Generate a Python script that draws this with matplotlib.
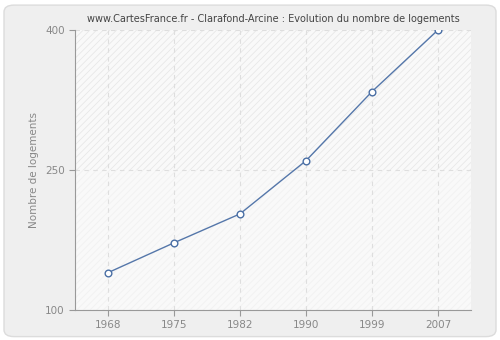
import matplotlib.pyplot as plt
from matplotlib.patches import FancyBboxPatch, Rectangle

years = ['1968', '1975', '1982', '1990', '1999', '2007']
logements = [140, 172, 203, 260, 334, 400]
y_ticks = [100, 250, 400]

fig = plt.figure(figsize=(5, 3.4), dpi=100)
fig.patch.set_facecolor('white')

# cadre arrondi de fond
fig.patches.append(FancyBboxPatch((0.008, 0.01), 0.984, 0.975, boxstyle='round,pad=0,rounding_size=0.02',
                                  transform=fig.transFigure, facecolor='#efefef',
                                  edgecolor='#dcdcdc', linewidth=1, zorder=-10))

ax = fig.add_axes([0.15, 0.0882, 0.792, 0.8236])
ax.set_facecolor('#f9f9f9')
x = list(range(len(years)))
ax.set_xlim(-0.5, len(years) - 0.5)
ax.set_ylim(100, 400)

# fond hachuré
plt.rcParams['hatch.linewidth'] = 0.6
ax.add_patch(Rectangle((-0.5, 250), len(years), 150, facecolor='none', edgecolor='#e8e8e8',
                       hatch='/////', linewidth=0, zorder=0))
ax.add_patch(Rectangle((-0.5, 100), len(years), 150, facecolor='none', edgecolor='#f1f1f1',
                       hatch='/////', linewidth=0, zorder=0))

ax.grid(True, axis='both', linestyle=(0, (4, 4)), color='#dedede', linewidth=0.8, zorder=1)

ax.plot(x, logements, color='#5577aa', linewidth=1, marker='o', markersize=4.8,
        markerfacecolor='white', markeredgecolor='#4a6fa5', markeredgewidth=1, zorder=3)

ax.set_xticks(x)
ax.set_xticklabels(years)
ax.set_yticks(y_ticks)
for s in ['top', 'right']:
    ax.spines[s].set_visible(False)
for s in ['left', 'bottom']:
    ax.spines[s].set_color('#999999')
ax.tick_params(colors='#999999', labelcolor='#888888', labelsize=7.5, length=4)
ax.set_ylabel('Nombre de logements', color='#888888', fontsize=7.5)
ax.set_title('www.CartesFrance.fr - Clarafond-Arcine : Evolution du nombre de logements',
             fontsize=7, color='#444444', pad=6)

fig.savefig('out.png', dpi=100)
